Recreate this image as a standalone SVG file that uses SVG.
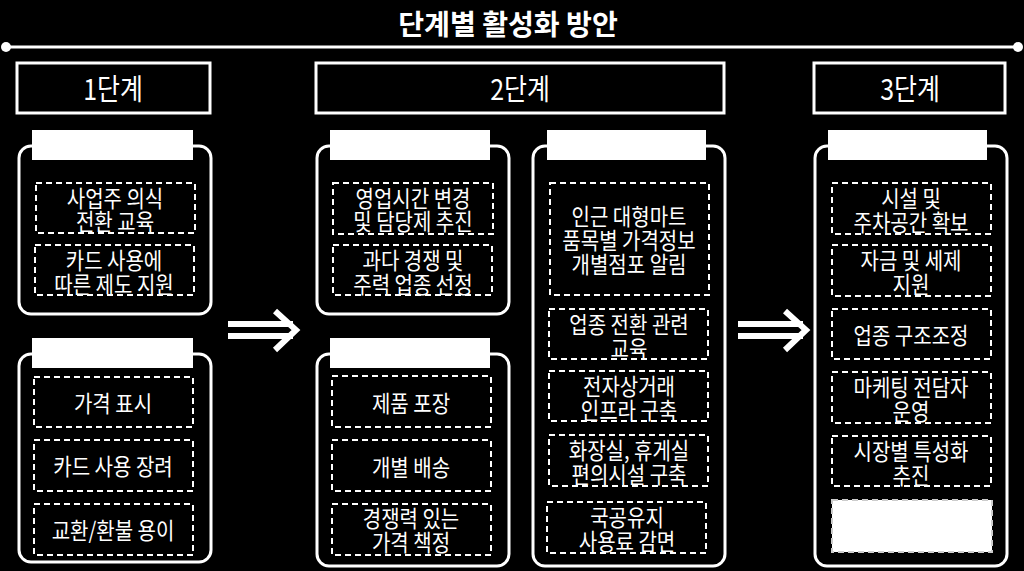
<svg xmlns="http://www.w3.org/2000/svg" width="1024" height="571" viewBox="0 0 1024 571">
<style>
.t{font-family:"Noto Sans CJK KR","Noto Sans",sans-serif;fill:#fff;text-anchor:middle;dominant-baseline:central;transform-box:fill-box;transform-origin:center}
.title{font-size:29px;font-weight:bold;transform:scaleX(0.97)}
.stage{font-size:29px;transform:scaleX(0.86)}
.item{font-size:23px;transform:scaleX(0.87)}
.sbox{fill:none;stroke:#fff;stroke-width:3}
.panel{fill:#000;stroke:#fff;stroke-width:3}
.tab{fill:#fff}
.dash{fill:none;stroke:#fff;stroke-width:2;stroke-dasharray:6 4}
.dashw{fill:#fff;stroke:#ccc;stroke-width:2;stroke-dasharray:6 4}
.arrow{fill:none;stroke:#fff;stroke-width:6}
</style>
<rect width="1024" height="571" fill="#000"/>
<g id="title">
<text class="t title" x="508" y="22">단계별 활성화 방안</text>
<line x1="6" y1="47" x2="1018" y2="47" stroke="#fff" stroke-width="3"/>
<circle cx="6" cy="47" r="5" fill="#fff"/>
<circle cx="1018" cy="47" r="5" fill="#fff"/>
</g>
<g id="stage1">
<rect class="sbox" x="17" y="63" width="193" height="50"/>
<text class="t stage" x="113" y="88">1단계</text>
</g>
<g id="stage2">
<rect class="sbox" x="316" y="63" width="408" height="50"/>
<text class="t stage" x="520" y="88">2단계</text>
</g>
<g id="stage3">
<rect class="sbox" x="814" y="63" width="191" height="50"/>
<text class="t stage" x="910" y="88">3단계</text>
</g>
<g id="panel1a">
<rect class="panel" x="19" y="146" width="192" height="168" rx="12"/>
<rect class="tab" x="32" y="130" width="161" height="30"/>
<rect class="dash" x="36" y="183" width="159" height="50"/>
<text class="t item"><tspan x="115" y="196">사업주 의식</tspan><tspan x="115" y="219">전환 교육</tspan></text>
<rect class="dash" x="35" y="245" width="159" height="50"/>
<text class="t item"><tspan x="114" y="258">카드 사용에</tspan><tspan x="114" y="282">따른 제도 지원</tspan></text>
</g>
<g id="panel1b">
<rect class="panel" x="19" y="354" width="192" height="208" rx="12"/>
<rect class="tab" x="32" y="338" width="161" height="30"/>
<rect class="dash" x="34" y="377" width="159" height="50"/>
<text class="t item" x="113" y="402">가격 표시</text>
<rect class="dash" x="34" y="440" width="159" height="51"/>
<text class="t item" x="113" y="465">카드 사용 장려</text>
<rect class="dash" x="34" y="504" width="159" height="51"/>
<text class="t item" x="113" y="529">교환/환불 용이</text>
</g>
<g id="panel2a">
<rect class="panel" x="317" y="146" width="192" height="168" rx="12"/>
<rect class="tab" x="330" y="130" width="160" height="30"/>
<rect class="dash" x="333" y="183" width="160" height="51"/>
<text class="t item"><tspan x="413" y="196">영업시간 변경</tspan><tspan x="413" y="219">및 담당제 추진</tspan></text>
<rect class="dash" x="333" y="245" width="159" height="50"/>
<text class="t item"><tspan x="413" y="258">과다 경쟁 및</tspan><tspan x="413" y="282">주력 업종 선정</tspan></text>
</g>
<g id="panel2b">
<rect class="panel" x="317" y="354" width="192" height="212" rx="12"/>
<rect class="tab" x="330" y="338" width="160" height="30"/>
<rect class="dash" x="332" y="376" width="159" height="51"/>
<text class="t item" x="411" y="402">제품 포장</text>
<rect class="dash" x="332" y="440" width="159" height="51"/>
<text class="t item" x="411" y="466">개별 배송</text>
<rect class="dash" x="332" y="504" width="159" height="51"/>
<text class="t item"><tspan x="411" y="516">경쟁력 있는</tspan><tspan x="411" y="540">가격 책정</tspan></text>
</g>
<g id="panel2c">
<rect class="panel" x="533" y="146" width="192" height="420" rx="12"/>
<rect class="tab" x="547" y="130" width="159" height="30"/>
<rect class="dash" x="550" y="183" width="159" height="112"/>
<text class="t item"><tspan x="629" y="214">인근 대형마트</tspan><tspan x="629" y="238">품목별 가격정보</tspan><tspan x="629" y="262">개별점포 알림</tspan></text>
<rect class="dash" x="549" y="309" width="159" height="50"/>
<text class="t item"><tspan x="629" y="322">업종 전환 관련</tspan><tspan x="629" y="346">교육</tspan></text>
<rect class="dash" x="549" y="371" width="159" height="50"/>
<text class="t item"><tspan x="629" y="384">전자상거래</tspan><tspan x="629" y="408">인프라 구축</tspan></text>
<rect class="dash" x="549" y="435" width="159" height="51"/>
<text class="t item"><tspan x="629" y="448">화장실, 휴게실</tspan><tspan x="629" y="472">편의시설 구축</tspan></text>
<rect class="dash" x="547" y="502" width="159" height="51"/>
<text class="t item"><tspan x="627" y="515">국공유지</tspan><tspan x="627" y="539">사용료 감면</tspan></text>
</g>
<g id="panel3">
<rect class="panel" x="815" y="146" width="192" height="420" rx="12"/>
<rect class="tab" x="828" y="130" width="159" height="30"/>
<rect class="dash" x="832" y="183" width="159" height="51"/>
<text class="t item"><tspan x="911" y="196">시설 및</tspan><tspan x="911" y="220">주차공간 확보</tspan></text>
<rect class="dash" x="832" y="245" width="159" height="51"/>
<text class="t item"><tspan x="911" y="258">자금 및 세제</tspan><tspan x="911" y="282">지원</tspan></text>
<rect class="dash" x="832" y="309" width="159" height="50"/>
<text class="t item" x="911" y="334">업종 구조조정</text>
<rect class="dash" x="832" y="372" width="159" height="51"/>
<text class="t item"><tspan x="911" y="385">마케팅 전담자</tspan><tspan x="911" y="409">운영</tspan></text>
<rect class="dash" x="832" y="436" width="159" height="50"/>
<text class="t item"><tspan x="911" y="449">시장별 특성화</tspan><tspan x="911" y="473">추진</tspan></text>
<rect class="dashw" x="832" y="500" width="160" height="52"/>
</g>
<g id="connectors">
<line class="arrow" x1="228" y1="324" x2="293" y2="324"/>
<line class="arrow" x1="228" y1="336" x2="293" y2="336"/>
<polyline class="arrow" points="275,311 296,330 275,350"/>
<line class="arrow" x1="738" y1="324" x2="803" y2="324"/>
<line class="arrow" x1="738" y1="336" x2="803" y2="336"/>
<polyline class="arrow" points="785,311 806,330 785,350"/>
</g>
</svg>
